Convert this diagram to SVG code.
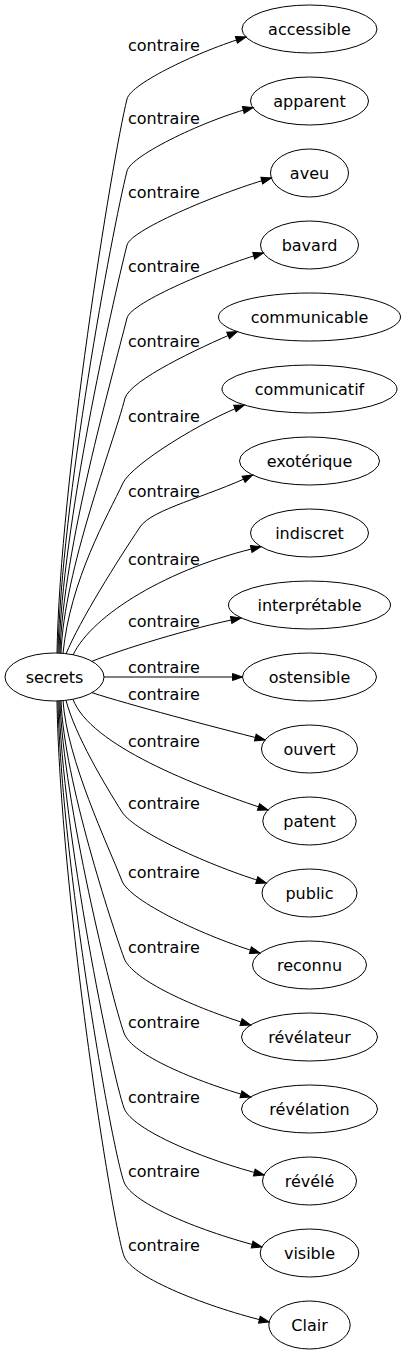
<svg xmlns="http://www.w3.org/2000/svg" width="406" height="1355" viewBox="0 0 406 1355">
<style>
.n ellipse{fill:none;stroke:#000;stroke-width:1}
text{font-family:"DejaVu Sans",sans-serif;font-size:16px;fill:#000}
.n text{text-anchor:middle}
.e path{fill:none;stroke:#000;stroke-width:1;marker-end:url(#ah)}
</style>
<defs>
<marker id="ah" markerUnits="userSpaceOnUse" markerWidth="12" markerHeight="9" refX="10" refY="3.5" orient="auto" overflow="visible">
<path d="M0,0 L10,3.5 L0,7 z" fill="#000" stroke="#000" stroke-width="1"/>
</marker>
</defs>
<rect width="406" height="1355" fill="#fff"/>
<g id="edges" class="e">
<path d="M57,653 C60,482 112,160 127,99 C131,83 201,50.5 246,37"/>
<path d="M58,653 C61,504 112,231 127,171 C131,155 208,118.75 253,107.5"/>
<path d="M59,653 C62,526 112,305 127,245 C131,229 226.4,190.2 271.4,178"/>
<path d="M60,653 C63,549 112,378 127,318 C131,302 218.3,266 263.3,253"/>
<path d="M61,653.3 C64,570 113,445 125,398 C131,380 197.3,348.6 237.3,331.6"/>
<path d="M63,653.5 C70,580 108,515 123,483 C132,464 204,420 244.3,405"/>
<path d="M66,654 C80,620 118,560 140,527 C152,509 207,497 252.6,475"/>
<path d="M73,655 C92,615 168,568 261,546.7"/>
<path d="M92,661.3 C120,650 190,628 241,618"/>
<path d="M104,677 L242.5,677"/>
<path d="M92,692.7 C130,705 210,726 265,740"/>
<path d="M73,699.3 C90,745 195,786 268,810"/>
<path d="M66,700.3 C75,735 105,785 122,812 C135,832 210,866 266.3,883"/>
<path d="M63,700.5 C67,760 108,845 122,881 C130,901 205,937 260,953"/>
<path d="M61,700.7 C64,780 112,925 124,958 C132,980 195,1008 250.6,1025"/>
<path d="M60,700.8 C63,800 112,1000 124,1033 C132,1055 195,1081 250.6,1097"/>
<path d="M59,700.9 C62,830 112,1075 124,1108 C132,1130 205,1160 264,1175"/>
<path d="M58,701 C61,860 112,1150 124,1182 C132,1204 203,1232 261.8,1247"/>
<path d="M57,701 C60,890 112,1224 124,1256 C132,1278 210,1308 269.1,1322"/>
</g>
<g id="edge-labels">
<text x="128" y="50.7">contraire</text>
<text x="128" y="124">contraire</text>
<text x="128" y="198.3">contraire</text>
<text x="128" y="271.7">contraire</text>
<text x="128" y="346.7">contraire</text>
<text x="128" y="421.7">contraire</text>
<text x="128" y="496.7">contraire</text>
<text x="128" y="565">contraire</text>
<text x="128" y="626.7">contraire</text>
<text x="128" y="672.7">contraire</text>
<text x="128" y="700">contraire</text>
<text x="128" y="746.7">contraire</text>
<text x="128" y="809.3">contraire</text>
<text x="128" y="878.3">contraire</text>
<text x="128" y="952.7">contraire</text>
<text x="128" y="1027.7">contraire</text>
<text x="128" y="1102.7">contraire</text>
<text x="128" y="1176.7">contraire</text>
<text x="128" y="1250.7">contraire</text>
</g>
<g id="secrets" class="n"><ellipse cx="54.5" cy="677" rx="49.5" ry="24"/><text x="54.5" y="682.5">secrets</text></g>
<g id="accessible" class="n"><ellipse cx="309.5" cy="29" rx="67.5" ry="24"/><text x="309.5" y="34.5">accessible</text></g>
<g id="apparent" class="n"><ellipse cx="309.5" cy="101" rx="59" ry="24"/><text x="309.5" y="106.5">apparent</text></g>
<g id="aveu" class="n"><ellipse cx="309.5" cy="173" rx="39" ry="24"/><text x="309.5" y="178.5">aveu</text></g>
<g id="bavard" class="n"><ellipse cx="309.5" cy="245" rx="49" ry="24"/><text x="309.5" y="250.5">bavard</text></g>
<g id="communicable" class="n"><ellipse cx="309.5" cy="317" rx="91" ry="24"/><text x="309.5" y="322.5">communicable</text></g>
<g id="communicatif" class="n"><ellipse cx="309.5" cy="389" rx="87.5" ry="24"/><text x="309.5" y="394.5">communicatif</text></g>
<g id="exoterique" class="n"><ellipse cx="309.5" cy="461" rx="70" ry="24"/><text x="309.5" y="466.5">exotérique</text></g>
<g id="indiscret" class="n"><ellipse cx="309.5" cy="533" rx="59" ry="24"/><text x="309.5" y="538.5">indiscret</text></g>
<g id="interpretable" class="n"><ellipse cx="309.5" cy="605" rx="81" ry="24"/><text x="309.5" y="610.5">interprétable</text></g>
<g id="ostensible" class="n"><ellipse cx="309.5" cy="677" rx="67" ry="24"/><text x="309.5" y="682.5">ostensible</text></g>
<g id="ouvert" class="n"><ellipse cx="309.5" cy="749" rx="48" ry="24"/><text x="309.5" y="754.5">ouvert</text></g>
<g id="patent" class="n"><ellipse cx="309.5" cy="821" rx="46.7" ry="24"/><text x="309.5" y="826.5">patent</text></g>
<g id="public" class="n"><ellipse cx="309.5" cy="893" rx="47.5" ry="24"/><text x="309.5" y="898.5">public</text></g>
<g id="reconnu" class="n"><ellipse cx="309.5" cy="965" rx="57" ry="24"/><text x="309.5" y="970.5">reconnu</text></g>
<g id="revelateur" class="n"><ellipse cx="309.5" cy="1037" rx="68" ry="24"/><text x="309.5" y="1042.5">révélateur</text></g>
<g id="revelation" class="n"><ellipse cx="309.5" cy="1109" rx="68" ry="24"/><text x="309.5" y="1114.5">révélation</text></g>
<g id="revele" class="n"><ellipse cx="309.5" cy="1181" rx="47" ry="24"/><text x="309.5" y="1186.5">révélé</text></g>
<g id="visible" class="n"><ellipse cx="309.5" cy="1253" rx="49.3" ry="24"/><text x="309.5" y="1258.5">visible</text></g>
<g id="Clair" class="n"><ellipse cx="309.5" cy="1325" rx="40.7" ry="24"/><text x="309.5" y="1330.5">Clair</text></g>
</svg>
